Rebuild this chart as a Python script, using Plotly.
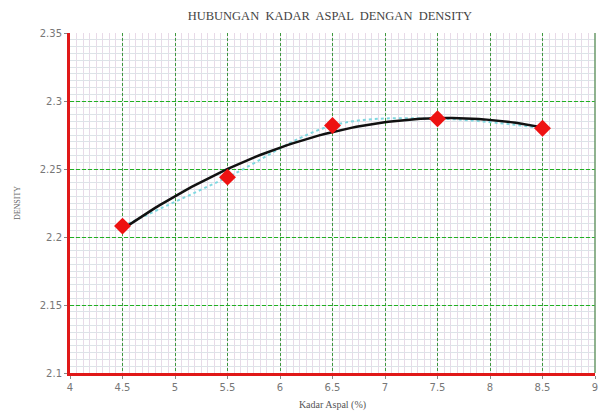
import numpy as np
import plotly.graph_objects as go

# Kadar aspal (%) vs density
kadar_aspal = [4.5, 5.5, 6.5, 7.5, 8.5]
density = [2.208, 2.244, 2.282, 2.287, 2.280]

x_ticks = [4, 4.5, 5, 5.5, 6, 6.5, 7, 7.5, 8, 8.5, 9]
y_ticks = [2.1, 2.15, 2.2, 2.25, 2.3, 2.35]

# quadratic trendline fitted to the measured points
coef = np.polyfit(kadar_aspal, density, 2)
fit_x = np.linspace(min(kadar_aspal), max(kadar_aspal), 80)
fit_y = np.polyval(coef, fit_x)

fig = go.Figure()
fig.add_trace(go.Scatter(
    x=kadar_aspal, y=density,
    mode="lines",
    line=dict(color="#7fd8e0", width=2, dash="dot", shape="spline"),
    showlegend=False,
))
fig.add_trace(go.Scatter(
    x=fit_x, y=fit_y,
    mode="lines",
    line=dict(color="#111111", width=2.5),
    showlegend=False,
))
fig.add_trace(go.Scatter(
    x=kadar_aspal, y=density,
    mode="markers",
    marker=dict(symbol="diamond", size=13, color="#ee1111"),
    showlegend=False,
))

fig.update_layout(
    width=602, height=414,
    paper_bgcolor="white",
    plot_bgcolor="white",
    margin=dict(l=70, r=4, t=33, b=41),
    title=dict(
        text="HUBUNGAN  KADAR  ASPAL  DENGAN  DENSITY",
        x=0.548, xanchor="center", y=0.962, yanchor="middle",
        font=dict(family="Liberation Serif", size=12.5, color="#444444"),
    ),
    xaxis=dict(
        range=[4, 9], tickvals=x_ticks,
        showgrid=True, gridcolor="#3f9a3f", griddash="3px,2px", gridwidth=1,
        minor=dict(dtick=0.0625, showgrid=True, gridcolor="#e8dae8",
                   griddash="solid", gridwidth=1),
        showline=True, linecolor="#e01818", linewidth=2.5, mirror=False,
        ticks="outside", ticklen=3, tickcolor="#888888",
        tickfont=dict(family="DejaVu Sans", size=10, color="#777777"),
        title=dict(text="Kadar Aspal (%)", standoff=10,
                   font=dict(family="Liberation Serif", size=10, color="#555555")),
        zeroline=False,
    ),
    yaxis=dict(
        range=[2.1, 2.35], tickvals=y_ticks,
        showgrid=True, gridcolor="#22b022", griddash="4px,2px", gridwidth=1,
        minor=dict(dtick=0.005, tick0=2.1, showgrid=True, gridcolor="#dde3e8",
                   griddash="solid", gridwidth=1),
        showline=True, linecolor="#e01818", linewidth=3,
        ticks="outside", ticklen=3, tickcolor="#888888",
        tickfont=dict(family="DejaVu Sans", size=10, color="#777777"),
        title=dict(text="DENSITY", standoff=18,
                   font=dict(family="Liberation Serif", size=8, color="#666666")),
        zeroline=False,
    ),
)

# right-hand frame line
fig.add_shape(type="line", xref="paper", yref="paper", x0=1, x1=1, y0=0, y1=1,
              line=dict(color="#6a9a6a", width=1.5))

# drop the browser's default body margin so the figure fills the window
fig.write_html("out.html", config={"displayModeBar": False},
               post_script="document.body.style.margin='0';")
